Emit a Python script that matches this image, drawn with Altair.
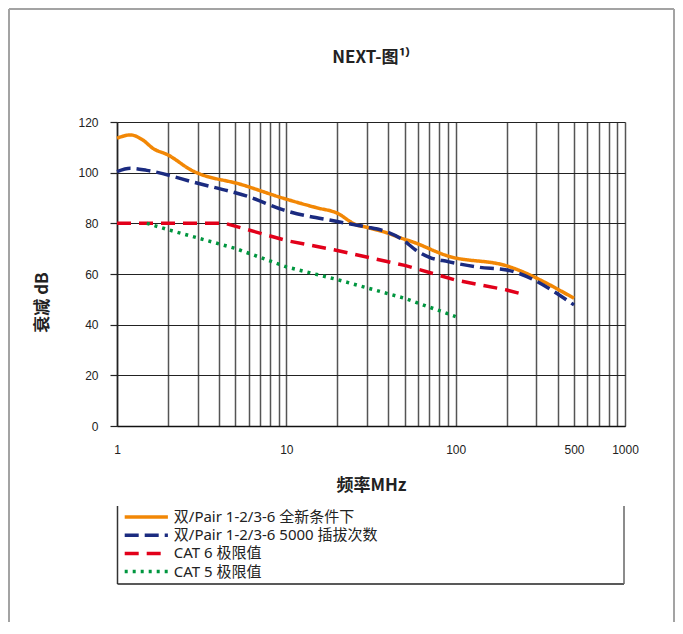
import altair as alt
import pandas as pd

# ---------------- data ----------------
series_names = [
    "双/Pair 1-2/3-6 全新条件下",
    "双/Pair 1-2/3-6 5000 插拔次数",
    "CAT 6 极限值",
    "CAT 5 极限值",
]
series_colors = ["#f28705", "#1b2b80", "#e2001a", "#00963f"]
series_dashes = [[1, 0], [14, 6], [14, 8], [3, 5]]

orange_mhz = [1.0, 1.2, 1.42, 1.63, 2.0, 2.73, 5.5, 9.6, 15, 20, 25.5, 30, 39, 48, 55, 90, 200, 500]
orange_db = [113.6, 114.9, 112.9, 109.6, 107.0, 101.1, 95.2, 89.9, 86.2, 84.0, 79.6, 78.4, 76.3, 74.1, 72.8, 67.1, 63.2, 50.4]

blue_mhz = [1.0, 1.2, 1.5, 3.0, 6.0, 9.6, 20, 29, 39, 49, 58, 70, 90, 136, 200, 500]
blue_db = [100.4, 101.7, 100.9, 95.8, 90.5, 85.3, 80.7, 78.7, 76.7, 73.4, 69.5, 66.6, 64.9, 62.7, 61.6, 47.8]

red_mhz = [1.0, 4.35, 10, 20, 50, 100, 200, 250]
red_db = [80.0, 80.0, 73.2, 69.3, 63.4, 57.6, 53.7, 52.0]

green_mhz = [1.5, 2.0, 5.0, 10, 20, 50, 100]
green_db = [80.0, 77.5, 70.1, 62.8, 57.8, 50.4, 43.2]

x_grid_values = [1, 2, 3, 4, 5, 6, 7, 8, 9,
                 10, 20, 30, 40, 50, 60, 70, 80, 90,
                 100, 200, 300, 400, 500, 600, 700, 800, 900, 1000]
x_label_values = [1, 10, 100, 500, 1000]
y_tick_values = [0, 20, 40, 60, 80, 100, 120]

chart_title = "NEXT-图¹⁾"
x_title = "频率MHz"
y_title = "衰减 dB"

# ---------------- table ----------------
rows = []
for name, xs, ys in zip(series_names,
                        [orange_mhz, blue_mhz, red_mhz, green_mhz],
                        [orange_db, blue_db, red_db, green_db]):
    for i, (xv, yv) in enumerate(zip(xs, ys)):
        rows.append({"series": name, "mhz": xv, "db": yv, "order": i})
df = pd.DataFrame(rows)

CJK = "'Noto Sans CJK SC'"
LAB = "'Noto Sans', 'Noto Sans CJK SC'"
NUM = "'Liberation Sans'"

label_list = ",".join(str(v) for v in x_label_values)

x_enc = alt.X(
    "mhz:Q",
    scale=alt.Scale(type="log", domain=[1, 1000]),
    axis=alt.Axis(
        values=x_grid_values,
        labelExpr=f"indexof([{label_list}], datum.value) >= 0 ? format(datum.value, 'd') : ''",
        labelOverlap=False,
        labelFlush=False,
        grid=True, gridColor="#555555", gridWidth=1.5, gridOpacity=1,
        ticks=False,
        domain=True, domainColor="#111111", domainWidth=1.5,
        labelFont=NUM, labelFontSize=12, labelColor="#222222", labelPadding=18,
        titleFont=CJK, titleFontSize=17, titleFontWeight="bold", titleColor="#222222",
        titleX=254, titleY=59, titleAlign="center", titleBaseline="middle",
    ),
    title=x_title,
)

y_enc = alt.Y(
    "db:Q",
    scale=alt.Scale(domain=[0, 120], nice=False),
    axis=alt.Axis(
        values=y_tick_values,
        grid=True, gridColor="#222222", gridWidth=1.2, gridOpacity=1,
        ticks=True, tickColor="#222222", tickSize=7, tickWidth=1.2,
        domain=True, domainColor="#222222", domainWidth=1.5,
        labelFont=NUM, labelFontSize=12, labelColor="#222222", labelPadding=12,
        titleFont=CJK, titleFontSize=17, titleFontWeight="bold", titleColor="#222222",
        titleX=-75, titleY=180, titleAngle=270, titleAlign="center", titleBaseline="middle",
    ),
    title=y_title,
)

# a wide horizontal stroke as legend symbol (unit path, scaled by the size)
legend_kw = dict(
    orient="none", legendX=21.8, legendY=387.5, direction="vertical",
    symbolType="M-4.8,0H4.8", symbolSize=81, symbolStrokeWidth=3.5,
    labelFont=LAB, labelFontSize=15, labelColor="#222222",
    labelOffset=20, rowPadding=2.2, padding=0, labelLimit=500, title=None,
)

color_enc = alt.Color("series:N",
                      scale=alt.Scale(domain=series_names, range=series_colors),
                      legend=alt.Legend(**legend_kw))
dash_enc = alt.StrokeDash("series:N",
                          scale=alt.Scale(domain=series_names, range=series_dashes),
                          legend=alt.Legend(**legend_kw))

base = alt.Chart(df).encode(x=x_enc, y=y_enc, color=color_enc, strokeDash=dash_enc,
                            order="order:Q")

smooth = base.transform_filter(
    alt.FieldOneOfPredicate(field="series", oneOf=series_names[:2])
).mark_line(strokeWidth=3.5, interpolate="monotone", strokeCap="butt")

straight = base.transform_filter(
    alt.FieldOneOfPredicate(field="series", oneOf=series_names[2:])
).mark_line(strokeWidth=3.5, interpolate="linear", strokeCap="butt")

# ---------------- decorative frames ----------------
one = alt.Data(values=[{"k": 0}])
def vrule(x, y1, y2, color, w):
    return alt.Chart(one).mark_rule(color=color, strokeWidth=w).encode(
        x=alt.value(x), y=alt.value(y1), y2=alt.value(y2))
def hrule(y, x1, x2, color, w):
    return alt.Chart(one).mark_rule(color=color, strokeWidth=w).encode(
        y=alt.value(y), x=alt.value(x1), x2=alt.value(x2))

frame = [
    vrule(-108, -113, 500, "#a3a3a3", 2),
    hrule(-113, -108, 557, "#a3a3a3", 2),
    vrule(557, -113, 500, "#a3a3a3", 2),
    vrule(0.5, 384, 462, "#333333", 1.5),
    hrule(462, 0.5, 507, "#222222", 1.5),
    vrule(507, 384, 462, "#666666", 1.5),
]

chart = alt.layer(smooth, straight, *frame).properties(
    width=508,
    height=304,
    title=alt.Title(chart_title, font=CJK, fontSize=17, fontWeight="bold", color="#222222",
                    anchor="middle", frame="group", baseline="alphabetic", offset=-72),
    padding={"left": 109, "top": 114, "right": 50, "bottom": 196},
    autosize="none",
).configure_view(
    fill="#f2f2f2", stroke="#444444", strokeWidth=1.5,
).configure(background="white")

chart.save("out.html", embed_options={"renderer": "svg", "actions": False})
